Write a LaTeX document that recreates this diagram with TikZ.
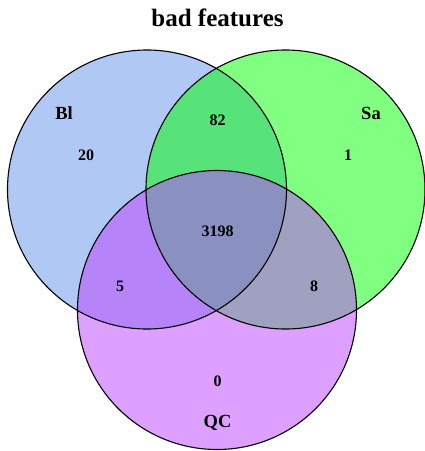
\documentclass[tikz,border=0pt]{standalone}
\usepackage{fontspec}
\setmainfont{Liberation Serif}
\begin{document}
\begin{tikzpicture}[x=1pt,y=-1pt,
  lbl/.style={font=\bfseries\fontsize{16}{16}\selectfont, inner sep=0pt},
  setname/.style={font=\bfseries\fontsize{18.5}{18.5}\selectfont, inner sep=0pt},
  ttl/.style={font=\bfseries\fontsize{25}{25}\selectfont, inner sep=0pt},
  ring/.style={draw=black, line width=1.1pt}]
\definecolor{cBl}{RGB}{176,200,244}
\definecolor{cSa}{RGB}{128,255,128}
\definecolor{cQC}{RGB}{221,160,255}
\definecolor{cBlSa}{RGB}{88,226,122}
\definecolor{cBlQC}{RGB}{183,131,249}
\definecolor{cSaQC}{RGB}{160,160,192}
\definecolor{cAll}{RGB}{138,145,192}
\useasboundingbox (0,0) rectangle (425,451);
\coordinate (bl) at (147,189.5);
\coordinate (sa) at (285.5,189.5);
\coordinate (qc) at (217,310);
\def\R{139.5}
\fill[cBl] (bl) circle (\R);
\fill[cSa] (sa) circle (\R);
\fill[cQC] (qc) circle (\R);
\begin{scope}\clip (bl) circle (\R); \fill[cBlSa] (sa) circle (\R); \end{scope}
\begin{scope}\clip (bl) circle (\R); \fill[cBlQC] (qc) circle (\R); \end{scope}
\begin{scope}\clip (sa) circle (\R); \fill[cSaQC] (qc) circle (\R); \end{scope}
\begin{scope}\clip (bl) circle (\R); \clip (sa) circle (\R); \fill[cAll] (qc) circle (\R); \end{scope}
\draw[ring] (bl) circle (\R);
\draw[ring] (sa) circle (\R);
\draw[ring] (qc) circle (\R);
\node[ttl] (title) at (217.5,18) {bad features};
\node[setname] (nBl) at (64,113) {Bl};
\node[setname] (nSa) at (371,113) {Sa};
\node[setname] (nQC) at (217.5,422.5) {QC};
\node[lbl] (v82) at (217.5,120) {82};
\node[lbl] (v20) at (86,155) {20};
\node[lbl] (v1) at (348,155) {1};
\node[lbl] (v3198) at (217.5,231) {3198};
\node[lbl] (v5) at (120,286) {5};
\node[lbl] (v8) at (314,286) {8};
\node[lbl] (v0) at (217.5,381) {0};
\end{tikzpicture}
\end{document}
